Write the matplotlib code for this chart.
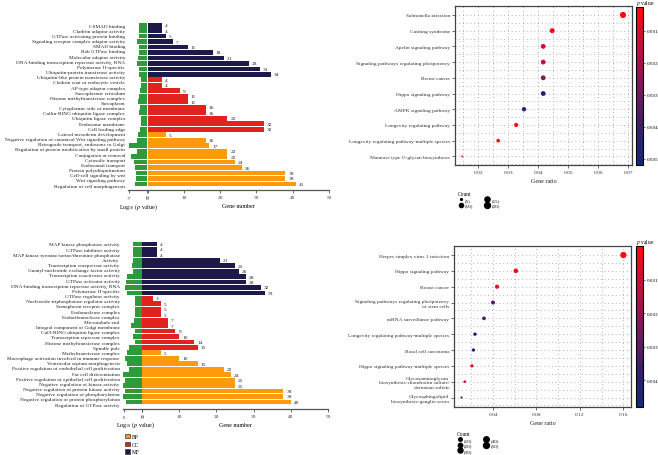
import numpy as np
import matplotlib
matplotlib.use("Agg")
import matplotlib.pyplot as plt
from matplotlib.colors import LinearSegmentedColormap, Normalize
from matplotlib.cm import ScalarMappable
from matplotlib.patches import Patch
from matplotlib.ticker import MultipleLocator

plt.rcParams['font.family'] = ['Liberation Serif', 'DejaVu Serif']
plt.rcParams['mathtext.fontset'] = 'stix'

W, H = 658, 456

# --- GO enrichment bars (top: cluster 1, bottom: cluster 2) ---
top_lines = [
    "I-SMAD binding", "Clathrin adaptor activity", "GTPase activating protein binding",
    "Signaling receptor complex adaptor activity", "SMAD binding", "Rab GTPase binding",
    "Molecular adaptor activity", "DNA-binding transcription repressor activity, RNA",
    "Polymerase II-specific", "Ubiquitin-protein transferase activity",
    "Ubiquitin-like protein transferase activity", "Clathrin coat of endocytic vesicle",
    "AP-type adaptor complex", "Sarcoplasmic reticulum", "Histone methyltransferase complex",
    "Sarcoplasm", "Cytoplasmic side of membrane", "Cullin-RING ubiquitin ligase complex",
    "Ubiquitin ligase complex", "Endosome membrane", "Cell leading edge",
    "Lateral mesoderm development", "Negative regulation of canonical Wnt signaling pathway",
    "Retrograde transport, endosome to Golgi",
    "Regulation of protein modification by small protein", "Conjugation or removal",
    "Cytosolic transport", "Endosomal transport", "Protein polyubiquitination",
    "Cell-cell signaling by wnt", "Wnt signaling pathway", "Regulation of cell morphogenesis",
]
top_genes_mf = [4, 4, 5, 7, 11, 18, 21, 28, 31, 34]
top_genes_cc = [4, 4, 9, 11, 11, 16, 16, 22, 32, 32]
top_genes_bp = [5, 16, 17, 22, 22, 24, 26, 38, 38, 41]
top_logp = [-3.0, -3.0, -3.2, -4.0, -3.0, -3.0, -3.5, -4.0, -3.2, -3.0,
            -2.2, -2.2, -2.7, -3.0, -3.5, -2.7, -3.0, -2.5, -2.5, -2.7,
            -3.5, -3.8, -7.2, -3.8, -6.3, -5.1, -4.5, -4.3, -4.3, -4.8]

bot_lines = [
    "MAP kinase phosphatase activity", "GTPase inhibitor activity",
    "MAP kinase tyrosine/serine/threonine phosphatase", "Activity",
    "Transcription corepressor activity", "Guanyl-nucleotide exchange factor activity",
    "Transcription coactivator activity", "GTPase activator activity",
    "DNA-binding transcription repressor activity, RNA", "Polymerase II-specific",
    "GTPase regulator activity", "Nucleoside-triphosphatase regulator activity",
    "Semaphorin receptor complex", "Endonuclease complex", "Endoribonuclease complex",
    "Microtubule end", "Integral component of Golgi membrane",
    "Cul3-RING ubiquitin ligase complex", "Transcription repressor complex",
    "Histone methyltransferase complex", "Spindle pole", "Methyltransferase complex",
    "Macrophage activation involved in immune response", "Ventricular septum morphogenesis",
    "Positive regulation of endothelial cell proliferation", "Fat cell differentiation",
    "Positive regulation of epithelial cell proliferation",
    "Negative regulation of kinase activity", "Negative regulation of protein kinase activity",
    "Negative regulation of phosphorylation", "Negative regulation of protein phosphorylation",
    "Regulation of GTPase activity",
]
bot_genes_mf = [4, 4, 4, 21, 25, 26, 28, 28, 32, 33]
bot_genes_cc = [3, 5, 5, 5, 7, 7, 9, 10, 14, 15]
bot_genes_bp = [5, 10, 15, 22, 24, 25, 25, 38, 38, 40]
bot_logp = [-2.6, -2.6, -2.6, -2.6, -2.8, -2.4, -4.1, -4.45, -4.8, -4.1,
            -1.85, -1.85, -1.85, -1.85, -2.2, -3.15, -2.0, -2.4, -1.85, -3.7,
            -4.1, -4.6, -4.25, -3.7, -5.2, -4.6, -5.2, -4.8, -5.4, -4.45]

# --- KEGG dot plots ---
top_paths = ["Salmonella infection", "Cushing syndrome", "Apelin signaling pathway",
             "Signaling pathways regulating pluripotency", "Breast cancer",
             "Hippo signaling pathway", "AMPK signaling pathway",
             "Longevity regulating pathway", "Longevity regulating pathway-multiple species",
             "Mannose type O-glycan biosynthesis"]
top_ratio = [0.0683, 0.0447, 0.0417, 0.0417, 0.0417, 0.0417, 0.0353, 0.0327, 0.0267, 0.0147]
top_count = [22, 14, 13, 13, 13, 13, 11, 10, 8, 5]
top_p = [0.0003, 0.0006, 0.0012, 0.0016, 0.0027, 0.0050, 0.0043, 0.0005, 0.0007, 0.0009]
top_size_breaks = [5, 10, 15, 20]

bot_paths = ["Herpes simplex virus 1 infection", "Hippo signaling pathway", "Breast cancer",
             "Signaling pathways regulating pluripotency\nof stem cells",
             "mRNA surveillance pathway", "Longevity regulating pathway-multiple species",
             "Basal cell carcinoma", "Hippo signaling pathway-multiple species",
             "Glycosaminoglycan\nbiosynthesis-chondroitin sulfate/\ndermatan sulfate",
             "Glycosphingolipid\nbiosynthesis-ganglio series"]
bot_ratio = [0.160, 0.061, 0.0437, 0.040, 0.0317, 0.0234, 0.022, 0.0206, 0.014, 0.011]
bot_count = [59, 22, 16, 15, 12, 9, 8, 8, 5, 4]
bot_p = [0.0002, 0.0004, 0.0007, 0.0032, 0.0031, 0.0045, 0.0046, 0.0006, 0.0008, 0.0028]
bot_size_breaks = [10, 20, 30, 40, 50]

GREEN = '#2f9a3c'
MF_C, CC_C, BP_C = '#1d1a4b', '#e2231d', '#ff9a0c'
pcmap = LinearSegmentedColormap.from_list('pv', ['#ff0a0a', '#c4103c', '#7c1a5a', '#3c1f68', '#10297a'])


def px_box(x0, y0, x1, y1):
    return [x0 / W, 1 - y1 / H, (x1 - x0) / W, (y1 - y0) / H]


def bar_panel(fig, lines, genes, logp, log_lim, log_ticks, log_box, gene_box, ylim, line_span):
    colors = [MF_C] * 10 + [CC_C] * 10 + [BP_C] * 10
    y = np.arange(len(genes))
    ax_l = fig.add_axes(px_box(*log_box))
    ax_g = fig.add_axes(px_box(*gene_box))
    ax_l.barh(y, logp, height=0.88, color=GREEN)
    ax_g.barh(y, genes, height=0.88, color=colors)
    for yi, v in zip(y, genes):
        ax_g.text(v + 0.8, yi, str(v), va='center', ha='left', fontsize=3.9, color='#222')
    ax_l.set_xlim(*log_lim)
    ax_g.set_xlim(0, 50)
    for ax in (ax_l, ax_g):
        ax.set_ylim(*ylim)
        for s in ('left', 'right', 'top'):
            ax.spines[s].set_visible(False)
        ax.spines['bottom'].set_color('#555')
        ax.spines['bottom'].set_linewidth(0.9)
        ax.patch.set_alpha(0)
        ax.tick_params(axis='x', labelsize=3.9, length=2, width=0.5, pad=1.5, colors='#333')
    ax_l.set_xticks(log_ticks)
    ax_l.set_xticklabels([str(t) for t in log_ticks])
    ax_l.tick_params(axis='x', pad=2.5)
    ax_g.set_xticks([0, 10, 20, 30, 40, 50])
    ax_g.set_yticks([])
    pos = np.linspace(line_span[0], line_span[1], len(lines))
    ax_l.set_yticks(pos)
    ax_l.set_yticklabels(lines, fontsize=3.75, color='#222')
    ax_l.tick_params(axis='y', length=0, pad=2)
    return ax_l, ax_g


def size_of(c, cmin, cmax, dmin, dmax):
    frac = np.clip((np.asarray(c, float) - cmin) / (cmax - cmin), 0, 1)
    d = dmin + (dmax - dmin) * np.sqrt(frac)
    return (d * 0.72) ** 2


def dot_panel(fig, box, paths, ratio, count, pvals, xlim, major, minor, ylim,
              vlim, cticks, cbar_box, breaks, dlim, leg_xy):
    ax = fig.add_axes(px_box(*box))
    y = np.arange(len(paths))
    cmin, cmax = min(count), max(count)
    norm = Normalize(*vlim)
    ax.set_axisbelow(True)
    ax.scatter(ratio, y, s=size_of(count, cmin, cmax, *dlim), c=pvals, cmap=pcmap, norm=norm,
               edgecolors='none', zorder=3)
    ax.set_xlim(*xlim)
    ax.set_ylim(*ylim)
    ax.xaxis.set_major_locator(MultipleLocator(major))
    ax.xaxis.set_minor_locator(MultipleLocator(minor))
    ax.set_yticks(y)
    ax.set_yticks(y + 0.5, minor=True)
    ax.set_yticklabels(paths)
    ax.xaxis.set_major_formatter(plt.FuncFormatter(lambda v, p: f'{v:.2f}'))
    ax.grid(which='both', linestyle=(0, (1, 3.5)), linewidth=0.6, color='#9a9a9a')
    ax.tick_params(which='minor', length=0)
    ax.tick_params(which='major', labelsize=3.9, length=2, width=0.5, pad=1.5, colors='#333')
    for s in ax.spines.values():
        s.set_color('#444')
        s.set_linewidth(0.9)
    ax.set_xlabel('Gene ratio', fontsize=4.3, labelpad=3, color='#222')

    cax = fig.add_axes(px_box(*cbar_box))
    cb = fig.colorbar(ScalarMappable(norm=norm, cmap=pcmap), cax=cax)
    cax.invert_yaxis()
    cb.set_ticks(cticks)
    cb.ax.tick_params(labelsize=3.6, length=1.5, width=0.4, pad=1.5)
    cb.outline.set_linewidth(0.8)
    cax.set_title(r'$\it{p}$ value', fontsize=4.0, loc='left', pad=0.8)

    handles = [ax.scatter([], [], s=size_of(b, cmin, cmax, *dlim), color='black') for b in breaks]
    fig.legend(handles, [f'({b})' for b in breaks], title='Count', ncol=2, frameon=False,
               loc='upper left', bbox_to_anchor=(leg_xy[0] / W, 1 - leg_xy[1] / H),
               fontsize=3.6, title_fontsize=4.0, alignment='left', handletextpad=0.3,
               columnspacing=2.2, labelspacing=0.15, borderpad=0, handlelength=1.2,
               handleheight=0.8)
    return ax


fig = plt.figure(figsize=(W / 100, H / 100), dpi=100)

bar_panel(fig, top_lines, top_genes_mf + top_genes_cc + top_genes_bp, top_logp,
          (-7.4, 0), [-7, 0], (128, 22, 147, 191), (147.6, 22, 329, 191),
          (30.1, -0.75), (0, 29.2))
bar_panel(fig, bot_lines, bot_genes_mf + bot_genes_cc + bot_genes_bp, bot_logp,
          (-5.4, 0), [-5, 0], (122.5, 240, 142, 410), (142, 240, 328, 410),
          (30.3, -0.9), (0, 29.4))

fig.text(138 / W, 1 - 207 / H, r'Log$_{10}$ ($p$ value)', fontsize=4.3, ha='center', va='center')
fig.text(238 / W, 1 - 207 / H, 'Gene number', fontsize=4.3, ha='center', va='center')
fig.text(135 / W, 1 - 425 / H, r'Log$_{10}$ ($p$ value)', fontsize=4.3, ha='center', va='center')
fig.text(235 / W, 1 - 426 / H, 'Gene number', fontsize=4.3, ha='center', va='center')

go_handles = [Patch(facecolor=c, edgecolor='#333', linewidth=0.5, label=l)
              for c, l in [(BP_C, 'BP'), (CC_C, 'CC'), (MF_C, 'MF')]]
fig.legend(handles=go_handles, loc='upper left', bbox_to_anchor=(122 / W, 1 - 432 / H),
           frameon=False, fontsize=4.0, handlelength=0.9, handleheight=0.9,
           labelspacing=0.45, handletextpad=0.4, borderpad=0)

dot_panel(fig, (455, 7, 632, 166), top_paths, top_ratio, top_count, top_p,
          (0.0123, 0.0713), 0.01, 0.005, (9.55, -0.57),
          (0.00026, 0.0052), [0.001, 0.002, 0.003, 0.004, 0.005], (636, 8, 643, 166),
          top_size_breaks, (1.8, 6.2), (455, 190))
dot_panel(fig, (454, 247, 631, 408), bot_paths, bot_ratio, bot_count, bot_p,
          (0.0041, 0.167), 0.04, 0.02, (9.6, -0.57),
          (0.0, 0.0048), [0.001, 0.002, 0.003, 0.004], (636, 247, 643, 408),
          bot_size_breaks, (2.2, 6.3), (454, 430))

fig.savefig('out.png', dpi=100)
